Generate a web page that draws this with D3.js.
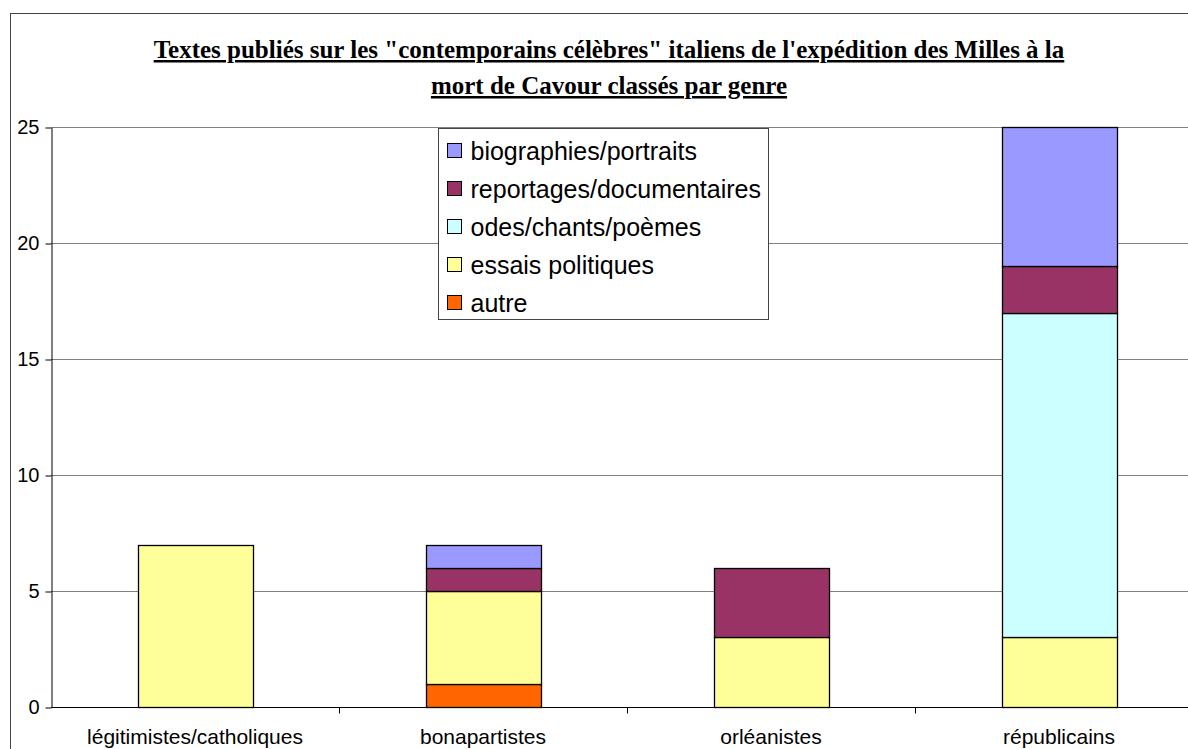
<!DOCTYPE html>
<html>
<head>
<meta charset="utf-8">
<script src="https://cdn.jsdelivr.net/npm/d3@7"></script>
<style>
  body { margin: 0; background: #fff; }
</style>
</head>
<body>
<div id="vizcont"></div>
<script>
// categories and series
var categories = ["légitimistes/catholiques", "bonapartistes", "orléanistes", "républicains"];
var autre = [0, 1, 0, 0];
var essais = [7, 4, 3, 3];
var odes = [0, 0, 0, 14];
var reportages = [0, 1, 3, 2];
var biographies = [0, 1, 0, 6];
var seriesNames = ["autre", "essais politiques", "odes/chants/poèmes", "reportages/documentaires", "biographies/portraits"];
var seriesColors = ["#FF6600", "#FFFF99", "#CCFFFF", "#993366", "#9999FF"];
var yTicks = [0, 5, 10, 15, 20, 25];

function drawChart() {
    var W = 1188, H = 749;
    var svg = d3.select("#vizcont").append("svg")
        .attr("width", W).attr("height", H);

    // outer chart frame (cut by window)
    svg.append("rect")
        .attr("x", 10.5).attr("y", 13.5)
        .attr("width", 1250).attr("height", 800)
        .attr("fill", "#fff").attr("stroke", "#444").attr("stroke-width", 1);

    var plotL = 51, plotR = 1203, plotT = 127, plotB = 707;

    var x = d3.scaleBand().domain(categories).range([plotL, plotR]).padding(0);
    var y = d3.scaleLinear().domain([0, 25]).range([plotB, plotT]);
    var barW = 115;

    // gridlines
    svg.append("g").selectAll("line")
        .data(yTicks.slice(1))
        .enter().append("line")
        .attr("x1", plotL).attr("x2", 1260)
        .attr("y1", function(d) { return Math.round(y(d)) + 0.5; })
        .attr("y2", function(d) { return Math.round(y(d)) + 0.5; })
        .attr("stroke", "#808080").attr("stroke-width", 1);

    // stacked data
    var seriesVals = [autre, essais, odes, reportages, biographies];
    var rows = categories.map(function(c, i) {
        var r = { cat: c };
        seriesNames.forEach(function(s, j) { r[s] = seriesVals[j][i]; });
        return r;
    });
    var stack = d3.stack().keys(seriesNames)(rows);

    svg.append("g").selectAll("g")
        .data(stack)
        .enter().append("g")
        .attr("fill", function(d, i) { return seriesColors[i]; })
        .selectAll("rect")
        .data(function(d) { return d.filter(function(p) { return p[1] - p[0] > 0; }); })
        .enter().append("rect")
        .attr("x", function(d) { return Math.round(x(d.data.cat) + x.bandwidth() / 2 - barW / 2) + 0.5; })
        .attr("width", barW)
        .attr("y", function(d) { return Math.round(y(d[1])) + 0.5; })
        .attr("height", function(d) { return Math.round(y(d[0])) - Math.round(y(d[1])); })
        .attr("stroke", "#000").attr("stroke-width", 1.3);

    // y axis
    var yAxis = svg.append("g").attr("transform", "translate(" + (plotL + 0.5) + ",0.5)")
        .call(d3.axisLeft(y).tickValues(yTicks).tickSize(6).tickPadding(6).tickSizeOuter(0));
    yAxis.select(".domain").attr("stroke", "#000");
    yAxis.selectAll(".tick line").attr("stroke", "#000");
    yAxis.selectAll("text").style("font", "20px 'Liberation Sans', Arial, sans-serif").attr("fill", "#000");

    // x axis
    var xg = svg.append("g").attr("transform", "translate(0," + (plotB + 0.5) + ")");
    xg.append("line").attr("x1", plotL).attr("x2", 1260).attr("stroke", "#000");
    xg.selectAll("line.tk")
        .data(categories.slice(1))
        .enter().append("line").attr("class", "tk")
        .attr("x1", function(d) { return Math.round(x(d)) + 0.5; })
        .attr("x2", function(d) { return Math.round(x(d)) + 0.5; })
        .attr("y1", 0).attr("y2", 6).attr("stroke", "#000");
    xg.selectAll("text")
        .data(categories)
        .enter().append("text")
        .attr("x", function(d) { return x(d) + x.bandwidth() / 2; })
        .attr("y", 36)
        .attr("text-anchor", "middle")
        .style("font", "21px 'Liberation Sans', Arial, sans-serif")
        .text(function(d) { return d; });

    // title
    var title = svg.append("text")
        .attr("text-anchor", "middle")
        .style("font", "bold 25px 'Liberation Serif', 'Times New Roman', serif")
        .attr("text-decoration", "underline");
    title.append("tspan").attr("x", 609).attr("y", 58)
        .text("Textes publiés sur les \"contemporains célèbres\" italiens de l'expédition des Milles à la");
    title.append("tspan").attr("x", 609).attr("y", 94)
        .text("mort de Cavour classés par genre");

    // legend
    var lg = svg.append("g").attr("transform", "translate(438.5,128.5)");
    lg.append("rect").attr("width", 330).attr("height", 191)
        .attr("fill", "#fff").attr("stroke", "#444");
    var legendOrder = seriesNames.slice().reverse();
    var legendColors = seriesColors.slice().reverse();
    var item = lg.selectAll("g.it")
        .data(legendOrder)
        .enter().append("g").attr("class", "it")
        .attr("transform", function(d, i) { return "translate(0," + (22 + i * 38) + ")"; });
    item.append("rect")
        .attr("x", 9).attr("y", -7).attr("width", 14).attr("height", 14)
        .attr("fill", function(d, i) { return legendColors[i]; })
        .attr("stroke", "#000");
    item.append("text")
        .attr("x", 32).attr("y", 0).attr("dy", "0.36em")
        .style("font", "25px 'Liberation Sans', Arial, sans-serif")
        .text(function(d) { return d; });
}

drawChart();
</script>
</body>
</html>
